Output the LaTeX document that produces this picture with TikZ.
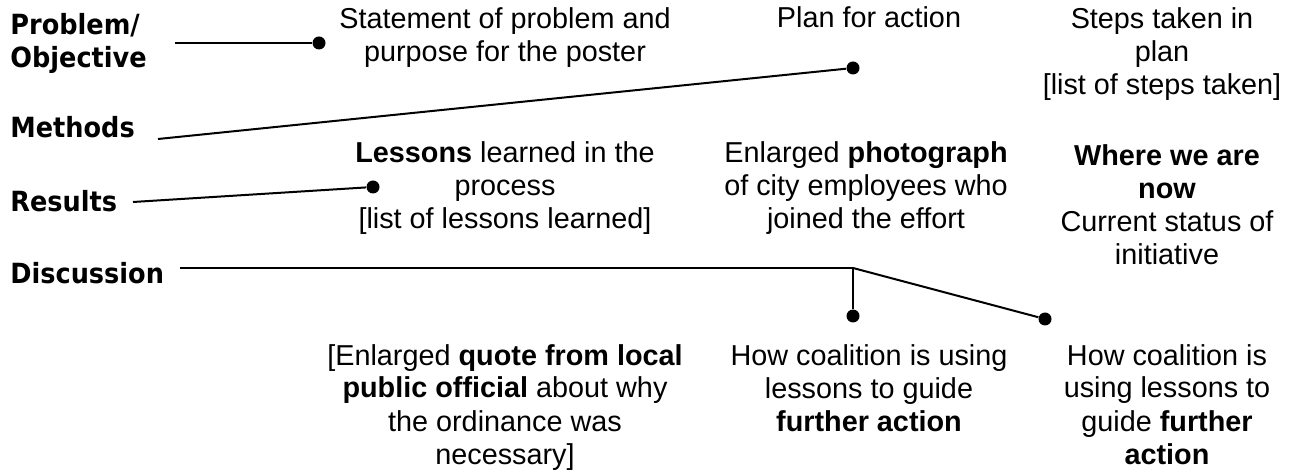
\documentclass[tikz,border=0pt]{standalone}
\usepackage{fontspec}
\setmainfont{Liberation Sans}
\newfontfamily\headfont[FakeStretch=0.92]{DejaVu Sans}
\tikzset{
  head/.style={anchor=base west, inner sep=0pt, align=left,
    font=\headfont\bfseries\fontsize{13.9}{16.5}\selectfont},
  body/.style={anchor=base, inner sep=0pt, align=center,
    font=\fontsize{14.4}{16.5}\selectfont},
  dot/.style={circle, fill, inner sep=0pt, minimum size=6.5pt},
  wire/.style={line width=1pt}
}

\begin{document}
\begin{tikzpicture}[x=0.5pt,y=-0.5pt]
\useasboundingbox (0,0) rectangle (1295,475);

\node (prob) at (10,68) [head] {Problem/\\Objective};
\node (meth) at (10,138) [head] {Methods};
\node (res) at (10,212) [head] {Results};
\node (disc) at (10,284) [head] {Discussion};

\node (stmt) at (505,62) [body] {Statement of problem and\\purpose for the poster};
\node (plan) at (869,28) [body] {Plan for action};
\node (steps) at (1162,95) [body] {Steps taken in\\plan\\{[list of steps taken]}};

\node (lessons) at (505,229) [body] {\textbf{Lessons} learned in the\\process\\{[list of lessons learned]}};
\node (photo) at (866,229) [body] {Enlarged \textbf{photograph}\\of city employees who\\joined the effort};
\node (where) at (1167,265) [body] {\textbf{Where we are}\\\textbf{now}\\Current status of\\initiative};

\node (quote) at (505,464) [body] {[Enlarged \textbf{quote from local}\\\textbf{public official} about why\\the ordinance was\\necessary]};
\node (using) at (869,431) [body] {How coalition is using\\lessons to guide\\\textbf{further action}};
\node (usingb) at (1167,464) [body] {How coalition is\\using lessons to\\guide \textbf{further}\\\textbf{action}};

\node (probdot) at (319,43) [dot] {};
\node (methdot) at (853,68) [dot] {};
\node (resdot) at (373,187) [dot] {};
\node (discdot) at (853,316) [dot] {};
\node (discdotb) at (1045,319) [dot] {};

\coordinate (probstart) at (175,43);
\coordinate (methstart) at (158,139);
\coordinate (resstart) at (133,202);
\coordinate (discstart) at (180,268);
\coordinate (discjoin) at (853,268);

\draw [wire] (probstart) -- (probdot);
\draw [wire] (methstart) -- (methdot);
\draw [wire] (resstart) -- (resdot);
\draw [wire] (discstart) -- (discjoin) -- (discdot);
\draw [wire] (discjoin) -- (discdotb);
\end{tikzpicture}
\end{document}
